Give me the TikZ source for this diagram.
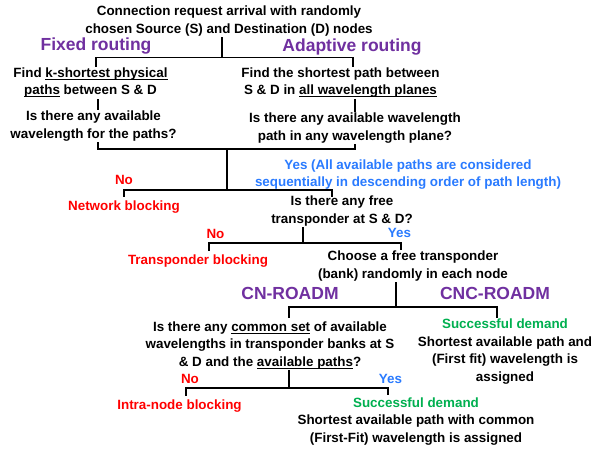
\documentclass[tikz,border=0pt]{standalone}
\usepackage{fontspec}
\setmainfont{Liberation Sans}
\definecolor{purp}{HTML}{7030A0}
\definecolor{redc}{HTML}{FF0000}
\definecolor{bluec}{HTML}{2A7BFF}
\definecolor{greenc}{HTML}{00B050}
\newcommand{\myul}[1]{\setbox0\hbox{#1}\rlap{\rule[-2.6pt]{\wd0}{0.9pt}}\box0\relax}
\tikzset{
  txt/.style={font=\fontsize{13.4}{17.5}\selectfont\bfseries, align=center, inner sep=1.5pt},
  head/.style={font=\fontsize{17.5}{20}\selectfont\bfseries, text=purp, inner sep=1pt},
  nolab/.style={txt, text=redc},
  yeslab/.style={txt, text=bluec},
  conn/.style={line width=1.4pt, line cap=rect},
}
\begin{document}
\begin{tikzpicture}[x=1pt,y=-1pt]
\fill[white] (0,0) rectangle (602,448);
\useasboundingbox (0,0) rectangle (602,448);

% texts
\node[txt] (title) at (229,21) {Connection request arrival with randomly\\chosen Source (S) and Destination (D) nodes};
\node[head] (fixed) at (96,46) {Fixed routing};
\node[head] (adapt) at (352,47) {Adaptive routing};
\node[txt] (kshort) at (90.5,82.5) {Find \myul{k-shortest physical}\\\myul{paths} between S \& D};
\node[txt] (short) at (340.5,82.5) {Find the shortest path between\\S \& D in \myul{all wavelength planes}};
\node[txt] (q1) at (93.5,126) {Is there any available\\wavelength for the paths?};
\node[txt] (q2) at (355,128) {Is there any available wavelength\\path in any wavelength plane?};
\node[yeslab] (yes1) at (408,174.5) {Yes (All available paths are considered\\sequentially in descending order of path length)};
\node[nolab] (no1) at (124,180) {No};
\node[nolab] (netb) at (124,207.5) {Network blocking};
\node[txt] (q3) at (342,211) {Is there any free\\transponder at S \& D?};
\node[nolab] (no2) at (215.5,234) {No};
\node[yeslab] (yes2) at (399.5,233) {Yes};
\node[nolab] (tblock) at (198,261.5) {Transponder blocking};
\node[txt] (choose) at (413,266) {Choose a free transponder\\(bank) randomly in each node};
\node[head] (cn) at (290,293) {CN-ROADM};
\node[head] (cnc) at (495,293) {CNC-ROADM};
\node[txt] (q4) at (270,345.5) {Is there any \myul{common set} of available\\wavelengths in transponder banks at S\\\& D and the \myul{available paths}?};
\node[txt] (succR) at (505,351.5) {\textcolor{greenc}{Successful demand}\\Shortest available path and\\(First fit) wavelength is\\assigned};
\node[nolab] (no3) at (190,379) {No};
\node[yeslab] (yes3) at (390.5,379) {Yes};
\node[nolab] (intra) at (179.5,406.5) {Intra-node blocking};
\node[txt] (succB) at (416,421.5) {\textcolor{greenc}{Successful demand}\\Shortest available path with common\\(First-Fit) wavelength is assigned};

% junction coordinates
\coordinate (b1) at (222,57.5);
\coordinate (d1) at (96,66);
\coordinate (d2) at (353,66);
\coordinate (xc) at (98,0);
\coordinate (xd) at (355,0);
\coordinate (b2) at (227,149);
\coordinate (b3) at (227,190);
\coordinate (d5) at (124,196);
\coordinate (d6) at (332,196);
\coordinate (b4) at (303,243);
\coordinate (d7) at (209,250);
\coordinate (d8) at (401,249);
\coordinate (b5) at (396,307);
\coordinate (d9) at (289,317);
\coordinate (d10) at (497,317);
\coordinate (b6) at (289,388);
\coordinate (d11) at (186,395);
\coordinate (d12) at (388,394);

% connectors
\draw[conn] (title.south -| b1) -- (b1);
\draw[conn] (d1) |- (b1) -| (d2);
\draw[conn] (kshort.south -| xc) -- (q1.north -| xc);
\draw[conn] (short.south -| xd) -- (q2.north -| xd);
\draw[conn] (q1.south -| xc) |- (b2) -| (q2.south -| xd);
\draw[conn] (b2) -- (b3);
\draw[conn] (d5) |- (b3) -| (d6);
\draw[conn] (q3.south -| b4) -- (b4);
\draw[conn] (d7) |- (b4) -| (d8);
\draw[conn] (choose.south -| b5) -- (b5);
\draw[conn] (d9) |- (b5) -| (d10);
\draw[conn] (q4.south -| b6) -- (b6);
\draw[conn] (d11) |- (b6) -| (d12);
\end{tikzpicture}
\end{document}
